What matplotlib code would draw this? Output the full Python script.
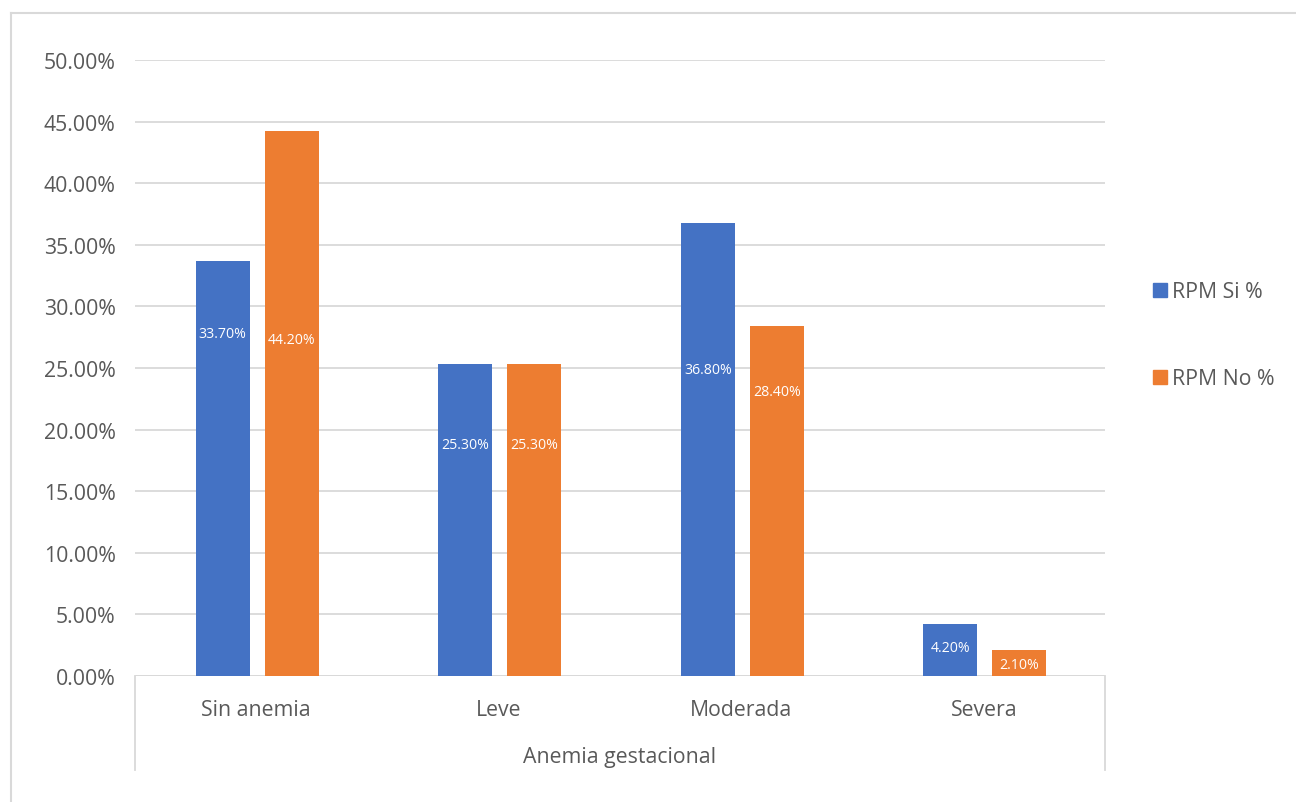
import matplotlib
matplotlib.use("Agg")
import matplotlib.pyplot as plt
from matplotlib.lines import Line2D
from matplotlib.patches import Rectangle
import numpy as np

categories = ["Sin anemia", "Leve", "Moderada", "Severa"]
rpm_si = [33.70, 25.30, 36.80, 4.20]
rpm_no = [44.20, 25.30, 28.40, 2.10]
series_names = ["RPM Si %", "RPM No %"]
axis_title = "Anemia gestacional"
yticks = [0, 5, 10, 15, 20, 25, 30, 35, 40, 45, 50]

# vertical placement of the value labels inside the bars (axis units)
label_y_si = [27.8, 18.8, 24.9, 2.35]
label_y_no = [27.3, 18.8, 23.1, 0.97]

BLUE = "#4472C4"
ORANGE = "#ED7D31"
GRID = "#D9D9D9"
TEXT = "#595959"
FONT = ["Open Sans", "DejaVu Sans"]
plt.rcParams["font.family"] = FONT

W, H = 1296, 803
fig = plt.figure(figsize=(W / 100, H / 100), dpi=100)

x0, x1 = 135, 1105
y_zero, y_top = 677, 61
ax = fig.add_axes([x0 / W, (H - y_zero) / H, (x1 - x0) / W, (y_zero - y_top) / H])

x = np.arange(len(categories))
width = 0.223
off = 0.142
ax.bar(x - off + 0.004, rpm_si, width, color=BLUE, label=series_names[0], zorder=3)
ax.bar(x + off + 0.004, rpm_no, width, color=ORANGE, label=series_names[1], zorder=3)

for xi, v, ly in zip(x, rpm_si, label_y_si):
    ax.text(xi - off + 0.004, ly, f"{v:.2f}%", ha="center", va="center",
            color="white", fontsize=10.2, zorder=4)
for xi, v, ly in zip(x, rpm_no, label_y_no):
    ax.text(xi + off + 0.004, ly, f"{v:.2f}%", ha="center", va="center",
            color="white", fontsize=10.2, zorder=4)

ax.set_xlim(-0.5, len(categories) - 0.5)
ax.set_ylim(0, 50)
ax.set_yticks(yticks)
ax.set_yticklabels([f"{t:.2f}%" for t in yticks], color=TEXT, fontsize=15.3)
ax.tick_params(axis="y", length=0, pad=14)
ax.set_xticks([])
ax.grid(axis="y", color=GRID, linewidth=1.3, zorder=0)
for s in ax.spines.values():
    s.set_visible(False)

# category axis: baseline, outer dividers and two label levels
ax.axhline(0, color=GRID, linewidth=1.3, zorder=2)
for xd in (-0.5, len(categories) - 0.5):
    ax.plot([xd, xd], [0, -7.6], color=GRID, linewidth=1.3, clip_on=False)
for xi, c in zip(x, categories):
    ax.text(xi, -2.75, c, ha="center", va="center", color=TEXT, fontsize=15.3,
            clip_on=False)
ax.text((len(categories) - 1) / 2, -6.55, axis_title, ha="center", va="center",
        color=TEXT, fontsize=15.3, clip_on=False)

# chart frame
fig.add_artist(Line2D([11 / W, 11 / W], [0, (H - 14) / H], color=GRID,
                      linewidth=1.5, transform=fig.transFigure))
fig.add_artist(Line2D([11 / W, 1], [(H - 14) / H, (H - 14) / H], color=GRID,
                      linewidth=1.5, transform=fig.transFigure))

# legend
for (ly, name, col) in [(291, series_names[0], BLUE), (378, series_names[1], ORANGE)]:
    fig.add_artist(Rectangle((1153 / W, (H - ly - 7) / H), 14 / W, 14 / H,
                             color=col, transform=fig.transFigure))
    fig.text(1172 / W, (H - ly - 2) / H, name, ha="left", va="center",
             color=TEXT, fontsize=15.3)

fig.savefig("out.png", dpi=100, facecolor="white")
